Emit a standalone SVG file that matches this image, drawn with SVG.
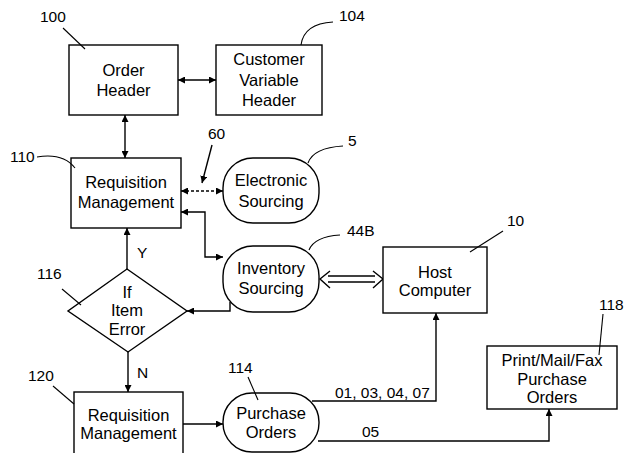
<svg xmlns="http://www.w3.org/2000/svg" width="627" height="453" viewBox="0 0 627 453">
<defs>
<style>
.n{fill:#fff;stroke:#000;stroke-width:1.4}
.t{font-family:"Liberation Sans",Arial,sans-serif;font-size:16.5px;text-anchor:middle;fill:#000}
.l{font-family:"Liberation Sans",Arial,sans-serif;font-size:15.5px;fill:#000}
.c{fill:none;stroke:#000;stroke-width:1.4}
.ld{fill:none;stroke:#000;stroke-width:1.1}
</style>
<marker id="ah" viewBox="0 0 10 10" refX="10" refY="5" markerWidth="7" markerHeight="7" orient="auto-start-reverse" markerUnits="userSpaceOnUse">
<path d="M0,0 L10,5 L0,10 z" fill="#000"/>
</marker>
</defs>
<rect width="627" height="453" fill="#fff"/>

<g id="connectors">
<line class="c" x1="178" y1="80" x2="216" y2="80" marker-start="url(#ah)" marker-end="url(#ah)"/>
<line class="c" x1="125" y1="115" x2="125" y2="158" marker-start="url(#ah)" marker-end="url(#ah)"/>
<line class="c" x1="181" y1="191" x2="223" y2="191" stroke-dasharray="3,2" marker-start="url(#ah)" marker-end="url(#ah)"/>
<line class="c" x1="212" y1="145" x2="202" y2="183" marker-end="url(#ah)"/>
<path class="c" d="M181,212 H205 V257 H223" marker-start="url(#ah)" marker-end="url(#ah)"/>
<line class="c" x1="328" y1="276" x2="375" y2="276"/>
<line class="c" x1="328" y1="282" x2="375" y2="282"/>
<path class="c" d="M330,271 L320,279 L330,288"/>
<path class="c" d="M373,271 L383,279 L373,288"/>
<path class="c" d="M230,302 V311 H187" marker-end="url(#ah)"/>
<line class="c" x1="127" y1="269" x2="127" y2="228" marker-end="url(#ah)"/>
<line class="c" x1="128" y1="352" x2="128" y2="392" marker-end="url(#ah)"/>
<line class="c" x1="183" y1="424" x2="223" y2="424" marker-end="url(#ah)"/>
<path class="c" d="M312,401 H436 V313" marker-end="url(#ah)"/>
<path class="c" d="M318,441 H549 V409" marker-end="url(#ah)"/>
<text class="l" x="335" y="398" font-size="14">01, 03, 04, 07</text>
<text class="l" x="362" y="437" font-size="14">05</text>
<text class="l" x="137" y="258">Y</text>
<text class="l" x="137" y="378">N</text>
</g>

<g id="n100">
<rect class="n" x="69" y="45" width="109" height="70"/>
<text class="t" x="123.5" y="76">Order</text>
<text class="t" x="123.5" y="96">Header</text>
<text class="l" x="40" y="22">100</text>
<line class="ld" x1="63" y1="28" x2="85" y2="49"/>
</g>

<g id="n104">
<rect class="n" x="216" y="45" width="106" height="70"/>
<text class="t" x="269" y="65">Customer</text>
<text class="t" x="269" y="86">Variable</text>
<text class="t" x="269" y="106">Header</text>
<text class="l" x="339" y="21">104</text>
<path class="ld" d="M301,45 C303,30 315,23 333,22"/>
</g>

<g id="n110">
<rect class="n" x="71" y="158" width="110" height="70"/>
<text class="t" x="126" y="188">Requisition</text>
<text class="t" x="126" y="208">Management</text>
<text class="l" x="10" y="162">110</text>
<path class="ld" d="M37,157 C55,154 68,159 75,168"/>
</g>

<g id="n60">
<text class="l" x="208" y="139">60</text>
</g>

<g id="n5">
<rect class="n" x="223" y="158" width="96" height="65" rx="30" ry="30"/>
<text class="t" x="271" y="186">Electronic</text>
<text class="t" x="271" y="207">Sourcing</text>
<text class="l" x="348" y="146">5</text>
<path class="ld" d="M308,163 C312,152 325,147 343,146"/>
</g>

<g id="n44B">
<rect class="n" x="223" y="246" width="96" height="66" rx="30" ry="30"/>
<text class="t" x="271" y="274">Inventory</text>
<text class="t" x="271" y="294">Sourcing</text>
<text class="l" x="347" y="236">44B</text>
<path class="ld" d="M309,250 C313,240 325,236 340,235"/>
</g>

<g id="n10">
<rect class="n" x="383" y="247" width="104" height="66"/>
<text class="t" x="435" y="278">Host</text>
<text class="t" x="435" y="296">Computer</text>
<text class="l" x="507" y="226">10</text>
<line class="ld" x1="503" y1="231" x2="470" y2="252"/>
</g>

<g id="n116">
<polygon class="n" points="127,269 187,311 128,352 68,311"/>
<text class="t" x="127" y="298">If</text>
<text class="t" x="127" y="316">Item</text>
<text class="t" x="127" y="335">Error</text>
<text class="l" x="37" y="279">116</text>
<line class="ld" x1="62" y1="289" x2="81" y2="305"/>
</g>

<g id="n120">
<rect class="n" x="74" y="392" width="109" height="70"/>
<text class="t" x="128.5" y="421">Requisition</text>
<text class="t" x="128.5" y="439">Management</text>
<text class="l" x="28" y="381">120</text>
<line class="ld" x1="53" y1="386" x2="74" y2="404"/>
</g>

<g id="n114">
<rect class="n" x="223" y="393" width="96" height="59" rx="29" ry="29"/>
<text class="t" x="271" y="419">Purchase</text>
<text class="t" x="271" y="438">Orders</text>
<text class="l" x="228" y="373">114</text>
<line class="ld" x1="248" y1="377" x2="258" y2="400"/>
</g>

<g id="n118">
<rect class="n" x="487" y="346" width="130" height="63"/>
<text class="t" x="552" y="366" font-size="16">Print/Mail/Fax</text>
<text class="t" x="552" y="385" font-size="16">Purchase</text>
<text class="t" x="552" y="403" font-size="16">Orders</text>
<text class="l" x="599" y="310">118</text>
<line class="ld" x1="603" y1="314" x2="599" y2="355"/>
</g>
</svg>
